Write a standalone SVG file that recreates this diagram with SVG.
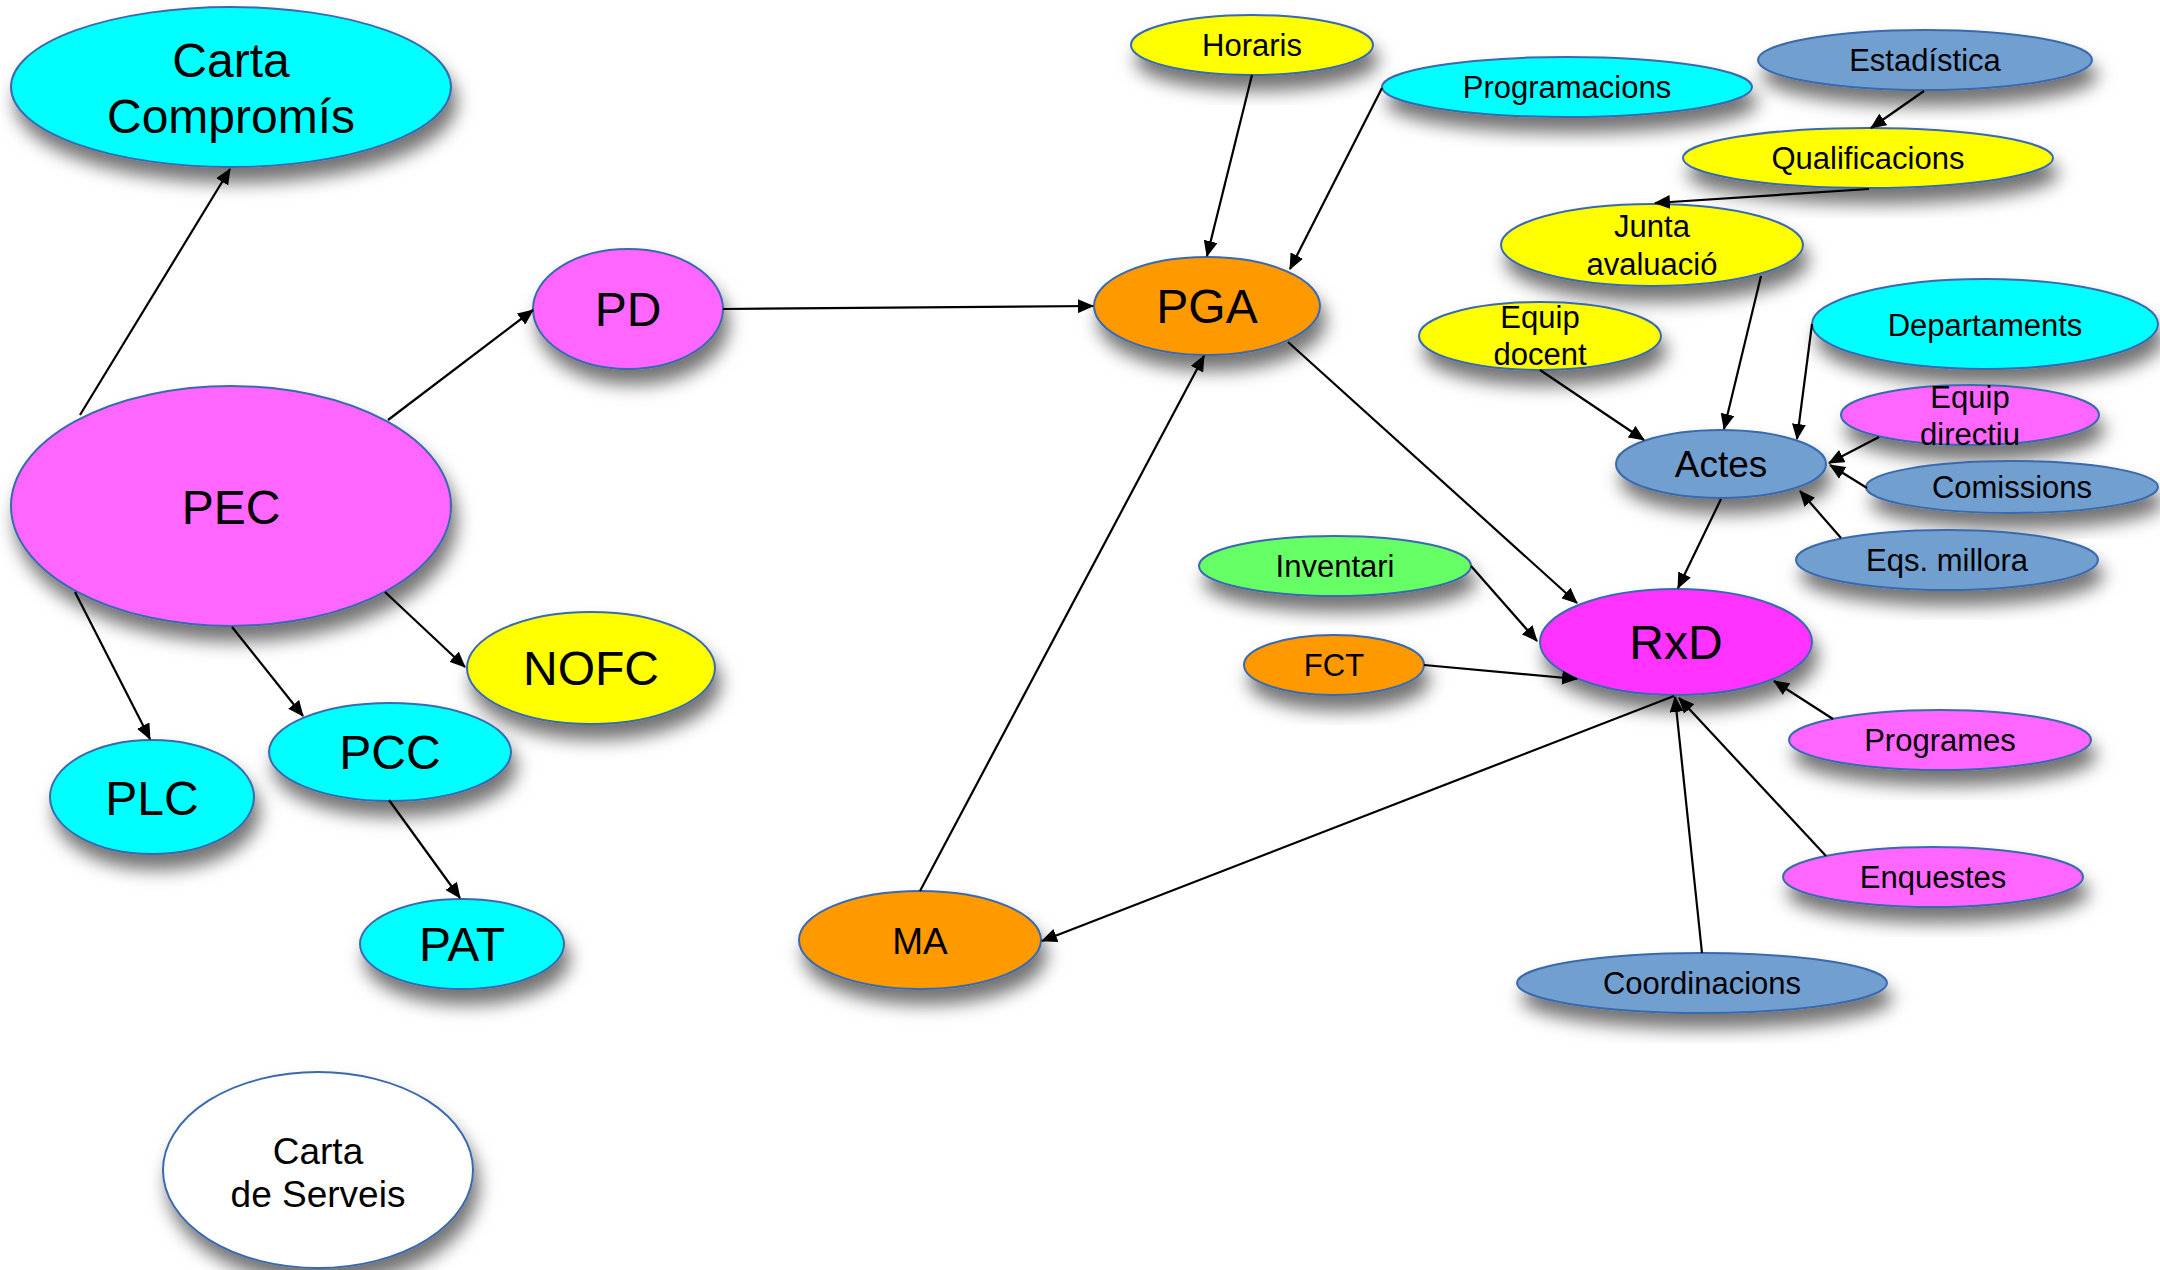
<svg xmlns="http://www.w3.org/2000/svg" width="2160" height="1270" viewBox="0 0 2160 1270">
<defs>
<filter id="sh" x="-30%" y="-30%" width="160%" height="180%">
<feGaussianBlur in="SourceAlpha" stdDeviation="9"/>
<feOffset dx="5" dy="15" result="b"/>
<feFlood flood-color="#000" flood-opacity="0.55"/>
<feComposite in2="b" operator="in" result="s"/>
<feMerge><feMergeNode in="s"/><feMergeNode in="SourceGraphic"/></feMerge>
</filter>
<marker id="ar" markerWidth="16" markerHeight="14" refX="15" refY="7" orient="auto" markerUnits="userSpaceOnUse">
<path d="M0,0 L16,7 L0,14 z" fill="#000"/>
</marker>
</defs>
<style>
ellipse{stroke:#3A69AD;stroke-width:2;filter:url(#sh)}
text{font-family:"Liberation Sans",Arial,sans-serif;text-anchor:middle;fill:#000}
.L{font-size:48px}.M{font-size:37px}.S{font-size:31px}
.cy{fill:#00FFFF}.mg{fill:#FF66FF}.rx{fill:#FF33FF}.ye{fill:#FFFF00}.or{fill:#FF9900}.gr{fill:#66FF66}.bl{fill:#709FD0}.wh{fill:#FFFFFF}
#edges line{stroke:#000;stroke-width:2.2;marker-end:url(#ar)}
</style>
<rect width="2160" height="1270" fill="#fff"/>
<g id="nodes">
<g id="carta-compromis"><ellipse class="cy" cx="231" cy="87" rx="220" ry="80"/><text class="L" x="231" y="77">Carta</text><text class="L" x="231" y="133">Compromís</text></g>
<g id="pec"><ellipse class="mg" cx="231" cy="506" rx="220" ry="120"/><text class="L" x="231" y="524">PEC</text></g>
<g id="pd"><ellipse class="mg" cx="628" cy="309" rx="95" ry="60"/><text class="L" x="628" y="326">PD</text></g>
<g id="nofc"><ellipse class="ye" cx="591" cy="668" rx="124" ry="56"/><text class="L" x="591" y="685">NOFC</text></g>
<g id="pcc"><ellipse class="cy" cx="390" cy="752" rx="121" ry="49"/><text class="L" x="390" y="769">PCC</text></g>
<g id="plc"><ellipse class="cy" cx="152" cy="797" rx="102" ry="57"/><text class="L" x="152" y="815">PLC</text></g>
<g id="pat"><ellipse class="cy" cx="462" cy="944" rx="102" ry="45"/><text class="L" x="462" y="961">PAT</text></g>
<g id="carta-serveis"><ellipse class="wh" cx="318" cy="1170" rx="155" ry="98"/><text class="M" x="318" y="1164">Carta</text><text class="M" x="318" y="1207">de Serveis</text></g>
<g id="ma"><ellipse class="or" cx="920" cy="940" rx="121" ry="49"/><text class="M" x="920" y="954">MA</text></g>
<g id="pga"><ellipse class="or" cx="1207" cy="306" rx="113" ry="49"/><text class="L" x="1207" y="323">PGA</text></g>
<g id="horaris"><ellipse class="ye" cx="1252" cy="45" rx="121" ry="30"/><text class="S" x="1252" y="56">Horaris</text></g>
<g id="programacions"><ellipse class="cy" cx="1567" cy="87" rx="185" ry="30"/><text class="S" x="1567" y="98">Programacions</text></g>
<g id="estadistica"><ellipse class="bl" cx="1925" cy="60" rx="167" ry="30"/><text class="S" x="1925" y="71">Estadística</text></g>
<g id="qualificacions"><ellipse class="ye" cx="1868" cy="158" rx="185" ry="30"/><text class="S" x="1868" y="169">Qualificacions</text></g>
<g id="junta"><ellipse class="ye" cx="1652" cy="245" rx="151" ry="41"/><text class="S" x="1652" y="237">Junta</text><text class="S" x="1652" y="275">avaluació</text></g>
<g id="equip-docent"><ellipse class="ye" cx="1540" cy="336" rx="121" ry="34"/><text class="S" x="1540" y="328">Equip</text><text class="S" x="1540" y="365">docent</text></g>
<g id="departaments"><ellipse class="cy" cx="1985" cy="324" rx="173" ry="45"/><text class="S" x="1985" y="336">Departaments</text></g>
<g id="equip-directiu"><ellipse class="mg" cx="1970" cy="415" rx="129" ry="30"/><text class="S" x="1970" y="408">Equip</text><text class="S" x="1970" y="445">directiu</text></g>
<g id="actes"><ellipse class="bl" cx="1721" cy="464" rx="105" ry="34"/><text class="M" x="1721" y="477">Actes</text></g>
<g id="comissions"><ellipse class="bl" cx="2012" cy="487" rx="146" ry="26"/><text class="S" x="2012" y="498">Comissions</text></g>
<g id="eqs-millora"><ellipse class="bl" cx="1947" cy="560" rx="151" ry="30"/><text class="S" x="1947" y="571">Eqs. millora</text></g>
<g id="inventari"><ellipse class="gr" cx="1335" cy="566" rx="136" ry="30"/><text class="S" x="1335" y="577">Inventari</text></g>
<g id="rxd"><ellipse class="rx" cx="1676" cy="642" rx="136" ry="53"/><text class="L" x="1676" y="659">RxD</text></g>
<g id="fct"><ellipse class="or" cx="1334" cy="665" rx="90" ry="30"/><text class="S" x="1334" y="676">FCT</text></g>
<g id="programes"><ellipse class="mg" cx="1940" cy="740" rx="151" ry="30"/><text class="S" x="1940" y="751">Programes</text></g>
<g id="enquestes"><ellipse class="mg" cx="1933" cy="877" rx="150" ry="30"/><text class="S" x="1933" y="888">Enquestes</text></g>
<g id="coordinacions"><ellipse class="bl" cx="1702" cy="983" rx="185" ry="30"/><text class="S" x="1702" y="994">Coordinacions</text></g>
</g>
<g id="edges">
<line x1="80" y1="415" x2="230" y2="169"/>
<line x1="388" y1="420" x2="533" y2="310"/>
<line x1="75" y1="592" x2="150" y2="739"/>
<line x1="232" y1="627" x2="303" y2="716"/>
<line x1="385" y1="592" x2="465" y2="667"/>
<line x1="389" y1="800" x2="460" y2="898"/>
<line x1="723" y1="309" x2="1093" y2="306"/>
<line x1="1252" y1="75" x2="1207" y2="256"/>
<line x1="1382" y1="88" x2="1290" y2="269"/>
<line x1="1924" y1="91" x2="1871" y2="128"/>
<line x1="1869" y1="189" x2="1655" y2="203"/>
<line x1="1761" y1="276" x2="1724" y2="429"/>
<line x1="1540" y1="370" x2="1644" y2="440"/>
<line x1="1812" y1="324" x2="1797" y2="439"/>
<line x1="1879" y1="437" x2="1829" y2="463"/>
<line x1="1867" y1="488" x2="1830" y2="465"/>
<line x1="1841" y1="538" x2="1800" y2="491"/>
<line x1="1721" y1="499" x2="1678" y2="588"/>
<line x1="1288" y1="342" x2="1577" y2="603"/>
<line x1="1471" y1="566" x2="1537" y2="641"/>
<line x1="1424" y1="665" x2="1577" y2="679"/>
<line x1="1833" y1="719" x2="1774" y2="681"/>
<line x1="1826" y1="856" x2="1679" y2="698"/>
<line x1="1702" y1="953" x2="1675" y2="697"/>
<line x1="1674" y1="696" x2="1042" y2="941"/>
<line x1="920" y1="891" x2="1204" y2="356"/>
</g>
</svg>
